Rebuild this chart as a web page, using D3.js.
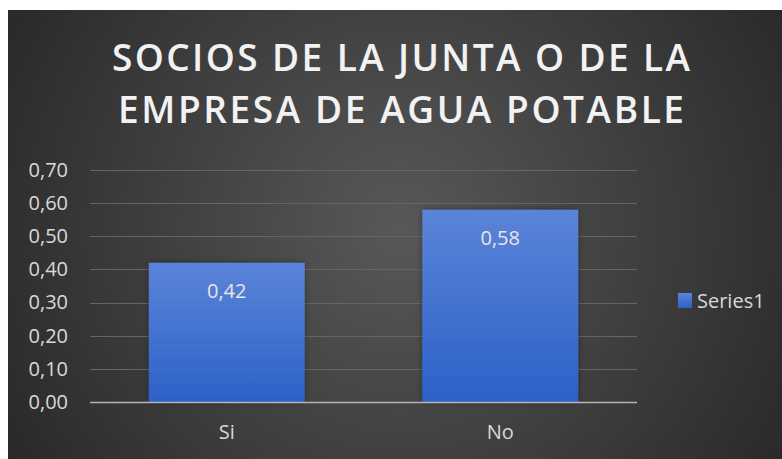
<!DOCTYPE html>
<meta charset="utf-8">
<style>
  body { margin: 0; background: #fff; }
  svg text { font-family: "Open Sans", "DejaVu Sans", sans-serif; }
</style>
<body>
<svg width="782" height="459"></svg>
</body>
<script src="https://d3js.org/d3.v7.min.js"></script>
<script>

// data
var categories = ["Si", "No"];
var values = [0.42, 0.58];
var yTicks = [0, 0.1, 0.2, 0.3, 0.4, 0.5, 0.6, 0.7];
var titleLines = ["SOCIOS DE LA JUNTA O DE LA", "EMPRESA DE AGUA POTABLE"];
var seriesName = "Series1";

var svg = d3.select("svg");
var fmt = function(v) { return d3.format(".2f")(v).replace(".", ","); };

var defs = svg.append("defs");
var bg = defs.append("radialGradient").attr("id", "bg")
    .attr("gradientUnits", "userSpaceOnUse")
    .attr("cx", 400).attr("cy", 230).attr("r", 480);
bg.append("stop").attr("offset", "0").attr("stop-color", "#585858");
bg.append("stop").attr("offset", "1").attr("stop-color", "#262626");

var barGrad = defs.append("linearGradient").attr("id", "bar")
    .attr("x1", 0).attr("y1", 0).attr("x2", 0).attr("y2", 1);
barGrad.append("stop").attr("offset", "0").attr("stop-color", "#5a84d8");
barGrad.append("stop").attr("offset", "1").attr("stop-color", "#2d61c8");

var glow = defs.append("filter").attr("id", "glow")
    .attr("x", "-20%").attr("y", "-20%").attr("width", "140%").attr("height", "140%");
glow.append("feGaussianBlur").attr("in", "SourceAlpha").attr("stdDeviation", 3).attr("result", "b");
glow.append("feFlood").attr("flood-color", "#000").attr("flood-opacity", 0.35);
glow.append("feComposite").attr("in2", "b").attr("operator", "in").attr("result", "s");
var fm = glow.append("feMerge");
fm.append("feMergeNode").attr("in", "s");
fm.append("feMergeNode").attr("in", "SourceGraphic");

// chart area
svg.append("rect").attr("x", 8).attr("y", 10).attr("width", 774).attr("height", 449)
    .attr("fill", "url(#bg)");

// title
svg.append("g").selectAll("text").data(titleLines).enter().append("text")
    .attr("x", 401)
    .attr("y", function(d, i) { return 71 + i * 52; })
    .attr("text-anchor", "middle")
    .attr("fill", "#f2f2f2")
    .attr("font-size", 37)
    .attr("font-weight", 600)
    .attr("textLength", function(d, i) { return i === 0 ? 578 : 566; })
    .attr("lengthAdjust", "spacing")
    .text(function(d) { return d; });

// scales
var x = d3.scaleBand().domain(categories).range([90, 637])
    .paddingInner(0.43).paddingOuter(0.215);
var y = d3.scaleLinear().domain([0, 0.7]).range([402, 170]);

// gridlines
svg.append("g").selectAll("line").data(yTicks.slice(1)).enter().append("line")
    .attr("x1", 90).attr("x2", 637)
    .attr("y1", function(d) { return Math.round(y(d)) + 0.5; })
    .attr("y2", function(d) { return Math.round(y(d)) + 0.5; })
    .attr("stroke", "#656565").attr("stroke-width", 1);

// y axis labels
var yAxis = d3.axisLeft(y).tickValues(yTicks).tickFormat(fmt).tickSize(0).tickPadding(0);
var yg = svg.append("g").attr("transform", "translate(68,0)").call(yAxis);
yg.select(".domain").remove();
yg.selectAll("text").attr("fill", "#d9d9d9").attr("font-size", 20);

// bars
var bars = svg.append("g").selectAll("g").data(values).enter().append("g");
bars.append("rect")
    .attr("x", function(d, i) { return x(categories[i]); })
    .attr("y", function(d) { return y(d); })
    .attr("width", x.bandwidth())
    .attr("height", function(d) { return y(0) - y(d); })
    .attr("fill", "url(#bar)")
    .attr("filter", "url(#glow)");
bars.append("text")
    .attr("x", function(d, i) { return x(categories[i]) + x.bandwidth() / 2; })
    .attr("y", function(d) { return y(d) + 35; })
    .attr("text-anchor", "middle")
    .attr("fill", "#e6e6e6")
    .attr("font-size", 20)
    .text(fmt);

// baseline
svg.append("line").attr("x1", 90).attr("x2", 637)
    .attr("y1", y(0) + 0.5).attr("y2", y(0) + 0.5)
    .attr("stroke", "#b5b5b5").attr("stroke-width", 1.5);

// x axis labels
var xAxis = d3.axisBottom(x).tickSize(0).tickPadding(0);
var xg = svg.append("g").attr("transform", "translate(0,425)").call(xAxis);
xg.select(".domain").remove();
xg.selectAll("text").attr("fill", "#d9d9d9").attr("font-size", 20);

// legend
var lg = svg.append("g").attr("transform", "translate(678,293)");
lg.append("rect").attr("width", 14).attr("height", 15).attr("fill", "url(#bar)");
lg.append("text").attr("x", 19).attr("y", 14.5).attr("fill", "#d9d9d9")
    .attr("font-size", 20).text(seriesName);

</script>
